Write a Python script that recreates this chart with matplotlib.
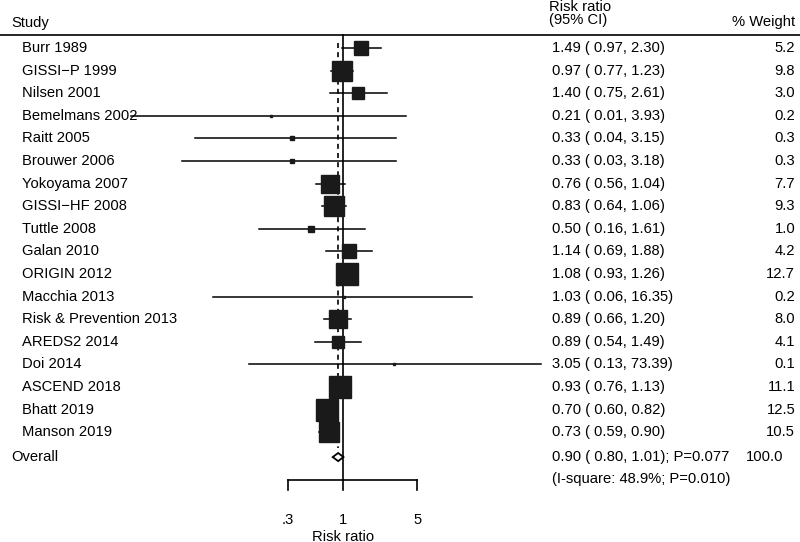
import numpy as np
import matplotlib.pyplot as plt
import matplotlib.transforms as mtransforms
from matplotlib.patches import Polygon

plt.rcParams['font.family'] = ['Liberation Sans', 'DejaVu Sans']

studies = ['Burr 1989', 'GISSI\u2212P 1999', 'Nilsen 2001', 'Bemelmans 2002', 'Raitt 2005',
           'Brouwer 2006', 'Yokoyama 2007', 'GISSI\u2212HF 2008', 'Tuttle 2008', 'Galan 2010',
           'ORIGIN 2012', 'Macchia 2013', 'Risk & Prevention 2013', 'AREDS2 2014', 'Doi 2014',
           'ASCEND 2018', 'Bhatt 2019', 'Manson 2019']
rr = [1.49, 0.97, 1.40, 0.21, 0.33, 0.33, 0.76, 0.83, 0.50, 1.14, 1.08, 1.03, 0.89, 0.89, 3.05, 0.93, 0.70, 0.73]
lo = [0.97, 0.77, 0.75, 0.01, 0.04, 0.03, 0.56, 0.64, 0.16, 0.69, 0.93, 0.06, 0.66, 0.54, 0.13, 0.76, 0.60, 0.59]
hi = [2.30, 1.23, 2.61, 3.93, 3.15, 3.18, 1.04, 1.06, 1.61, 1.88, 1.26, 16.35, 1.20, 1.49, 73.39, 1.13, 0.82, 0.90]
weight = [5.2, 9.8, 3.0, 0.2, 0.3, 0.3, 7.7, 9.3, 1.0, 4.2, 12.7, 0.2, 8.0, 4.1, 0.1, 11.1, 12.5, 10.5]
overall = (0.90, 0.80, 1.01)
overall_text = '0.90 ( 0.80, 1.01); P=0.077'
het_text = '(I-square: 48.9%; P=0.010)'
ticks = [0.3, 1, 5]
tick_labels = ['.3', '1', '5']

fig = plt.figure(figsize=(8, 5.42), dpi=100)
ax = fig.add_axes([0, 0, 1, 1])
ax.set_xscale('log')
# ~106 px per decade, RR=1 at x=343 px
ax.set_xlim(10 ** (-343 / 106), 10 ** (457 / 106))
ax.set_ylim((542 - 48) / 22.6, -48 / 22.6)
ax.axis('off')
tr = mtransforms.blended_transform_factory(ax.transAxes, ax.transData)

fs = 10.6
col_ci = 0.69
n = len(studies)
for i in range(n):
    ax.plot([lo[i], hi[i]], [i, i], color='black', lw=1.1, zorder=2)
    # box area proportional to weight
    side = 6.4 * np.sqrt(weight[i])
    ax.plot(rr[i], i, marker='s', ms=side * 0.72, color='#1a1a1a', mec='#1a1a1a', zorder=3)
    ax.text(0.0275, i, studies[i], transform=tr, fontsize=fs, va='center', ha='left')
    ax.text(col_ci, i, '%.2f ( %.2f, %.2f)' % (rr[i], lo[i], hi[i]), transform=tr,
            fontsize=fs, va='center', ha='left')
    ax.text(0.994, i, '%.1f' % weight[i], transform=tr, fontsize=fs, va='center', ha='right')

# overall diamond
yo = n
h = 0.18
ax.add_patch(Polygon([[overall[1], yo + 0.1], [overall[0], yo + 0.1 - h], [overall[2], yo + 0.1],
                      [overall[0], yo + 0.1 + h]],
                     closed=True, fill=False, edgecolor='black', lw=1.3, zorder=4))
ax.text(0.014, yo + 0.1, 'Overall', transform=tr, fontsize=fs, va='center', ha='left')
ax.text(col_ci, yo + 0.1, overall_text, transform=tr, fontsize=fs, va='center', ha='left')
ax.text(0.979, yo + 0.1, '100.0', transform=tr, fontsize=fs, va='center', ha='right')
ax.text(col_ci, yo + 1.05, het_text, transform=tr, fontsize=fs, va='center', ha='left')

# reference lines
ax.plot([1, 1], [-0.58, 19.12], color='black', lw=1.2)
ax.plot([overall[0], overall[0]], [-0.2, 17.7], color='black', lw=1.2, ls=(0, (3, 2.5)))

# header
ax.plot([0, 1], [-0.58, -0.58], transform=tr, color='black', lw=1.2, clip_on=False)
ax.text(0.014, -1.12, 'Study', transform=tr, fontsize=fs, va='center', ha='left')
ax.text(0.686, 1.0, 'Risk ratio\n(95% CI)', transform=ax.transAxes, fontsize=fs,
        va='top', ha='left', linespacing=0.92)
ax.text(0.994, -1.15, '% Weight', transform=tr, fontsize=fs, va='center', ha='right')

# x axis
ya = 19.12
ax.plot([ticks[0], ticks[-1]], [ya, ya], color='black', lw=1.2)
for t, lab in zip(ticks, tick_labels):
    ax.plot([t, t], [ya, ya + 0.45], color='black', lw=1.2)
    ax.text(t, 20.9, lab, fontsize=fs, ha='center', va='center')
ax.text(1, 21.62, 'Risk ratio', fontsize=fs, ha='center', va='center')

fig.savefig('out.png', dpi=100)
